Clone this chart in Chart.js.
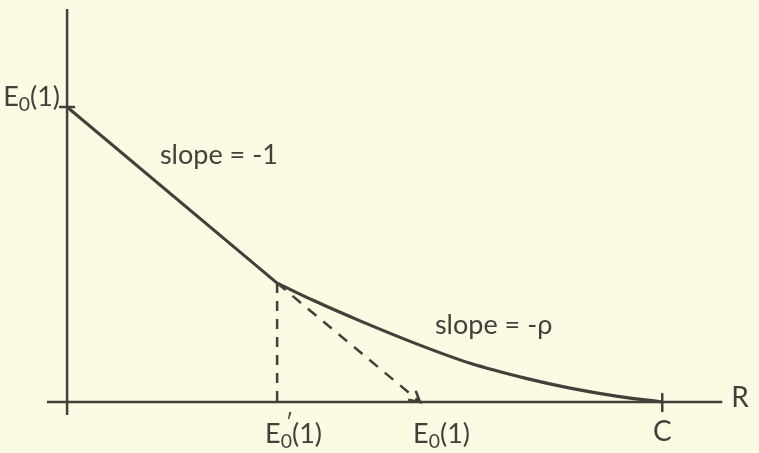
<!DOCTYPE html>
<html>
<head>
<meta charset="utf-8">
<script src="https://cdn.jsdelivr.net/npm/chart.js@4.4.1/dist/chart.umd.min.js"></script>
<style>
  html, body { margin: 0; padding: 0; background: #fbfae3; }
  #wrap { width: 759px; height: 453px; }
</style>
</head>
<body>
<div id="wrap"><canvas id="myChart" width="759" height="453"></canvas></div>
<script>
// rate R along x, exponent E along y (E0(1) taken as 1)
var slopeR = [0, 0.595];
var slopeE = [1, 0.403];
var curveR = [0.595, 0.70, 0.83, 0.99, 1.14, 1.30, 1.425, 1.56, 1.686];
var curveE = [0.403, 0.343, 0.275, 0.197, 0.132, 0.080, 0.047, 0.019, 0];

// dashed tangent continued down to the axis, and the drop line
var tangentR = [0.595, 1];
var tangentE = [0.403, 0];
var dropR = [0.595, 0.595];
var dropE = [0.403, 0];

// axis lines
var xAxisR = [-0.057, 1.856];
var yAxisE = [-0.044, 1.332];

// tick labels ("_" = subscript next char, "'" = prime)
var xTickValues = [0.595, 1, 1.686];
var xTickLabels = ["E_0'(1)", "E_0(1)", "C"];
var yTickValues = [1];
var yTickLabels = ["E_0(1)"];
var xAxisName = "R";

var ink = '#453e3b';
var font = 'Lato, "DejaVu Sans", sans-serif';

function pts(xs, ys) {
  var out = [];
  for (var i = 0; i < xs.length; i++) out.push({x: xs[i], y: ys[i]});
  return out;
}

// split "E_0'(1)" into pieces with their own size / baseline shift
function parts(label, size) {
  var out = [];
  for (var i = 0; i < label.length; i++) {
    var c = label[i];
    if (c === '_') { out.push({t: label[i + 1], size: size * 0.72, dy: size * 0.28}); i++; }
    else if (c === "'") { out.push({t: '\u2032', size: size * 0.8, dy: -size * 0.45, back: true}); }
    else out.push({t: c, size: size, dy: 0});
  }
  return out;
}

function drawLabel(ctx, label, x, y, size, align) {
  var ps = parts(label, size);
  var w = 0, widths = [];
  ps.forEach(function(p) {
    ctx.font = p.size + 'px ' + font;
    var pw = ctx.measureText(p.t).width;
    widths.push(pw);
    if (!p.back) w += pw;
  });
  var cx = align === 'center' ? x - w / 2 : align === 'right' ? x - w : x;
  ctx.textBaseline = 'middle';
  ctx.textAlign = 'left';
  var lastW = 0;
  ps.forEach(function(p, i) {
    ctx.font = p.size + 'px ' + font;
    if (p.back) {
      ctx.fillText(p.t, cx - lastW * 0.55, y + p.dy);
    } else {
      ctx.fillText(p.t, cx, y + p.dy);
      cx += widths[i];
      lastW = widths[i];
    }
  });
}

var sketch = {
  id: 'sketch',
  beforeDraw: function(chart) {
    var ctx = chart.ctx;
    ctx.save();
    ctx.fillStyle = '#fbfae3';
    ctx.fillRect(0, 0, chart.width, chart.height);
    ctx.restore();
  },
  afterDatasetsDraw: function(chart) {
    var ctx = chart.ctx, xs = chart.scales.x, ys = chart.scales.y;
    var x0 = xs.getPixelForValue(0), y0 = ys.getPixelForValue(0);
    ctx.save();
    ctx.strokeStyle = ink;
    ctx.fillStyle = ink;
    ctx.lineWidth = 2.5;
    ctx.lineCap = 'round';

    // y tick crosses + labels
    yTickValues.forEach(function(v, i) {
      var py = ys.getPixelForValue(v);
      ctx.beginPath(); ctx.moveTo(x0 - 7, py); ctx.lineTo(x0 + 7, py); ctx.stroke();
      drawLabel(ctx, yTickLabels[i], x0 - 7, py - 10, 27, 'right');
    });

    // x tick labels, C gets a cross mark
    xTickValues.forEach(function(v, i) {
      var px = xs.getPixelForValue(v);
      var lab = xTickLabels[i];
      if (lab === 'C') {
        ctx.beginPath(); ctx.moveTo(px, y0 - 8); ctx.lineTo(px, y0 + 9); ctx.stroke();
        drawLabel(ctx, lab, px, y0 + 30, 28, 'center');
      } else {
        drawLabel(ctx, lab, px - (lab.indexOf("'") > 0 ? 12 : 7), y0 + 32, 27, 'left');
      }
    });

    // arrow head where the tangent meets the axis
    var tx = xs.getPixelForValue(tangentR[1]), ty = ys.getPixelForValue(tangentE[1]);
    var sx = xs.getPixelForValue(tangentR[0]), sy = ys.getPixelForValue(tangentE[0]);
    var ang = Math.atan2(ty - sy, tx - sx);
    ctx.beginPath();
    ctx.moveTo(tx - 11 * Math.cos(ang - 0.5), ty - 11 * Math.sin(ang - 0.5));
    ctx.lineTo(tx, ty);
    ctx.lineTo(tx - 11 * Math.cos(ang + 0.5), ty - 11 * Math.sin(ang + 0.5));
    ctx.stroke();

    // axis name
    drawLabel(ctx, xAxisName, xs.getPixelForValue(xAxisR[1]) + 9, y0 - 4, 28, 'left');

    // slope notes
    drawLabel(ctx, 'slope = -1', xs.getPixelForValue(0.263), ys.getPixelForValue(0.837), 27, 'left');
    drawLabel(ctx, 'slope = -\u03c1', xs.getPixelForValue(1.042), ys.getPixelForValue(0.261), 27, 'left');
    ctx.restore();
  }
};

var line = {
  showLine: true, pointRadius: 0, borderColor: ink, borderWidth: 3,
  fill: false, tension: 0
};

var data = {
  datasets: [
    Object.assign({}, line, {data: pts(xAxisR, [0, 0]), borderWidth: 2.5}),
    Object.assign({}, line, {data: pts([0, 0], yAxisE), borderWidth: 2.5}),
    Object.assign({}, line, {data: pts(slopeR, slopeE)}),
    Object.assign({}, line, {data: pts(curveR, curveE), cubicInterpolationMode: 'monotone', borderWidth: 3.2}),
    Object.assign({}, line, {data: pts(tangentR, tangentE), borderDash: [11, 9], borderWidth: 2.5}),
    Object.assign({}, line, {data: pts(dropR, dropE), borderDash: [10, 8], borderWidth: 2.5})
  ]
};

var options = {
  responsive: false,
  animation: false,
  layout: { padding: 0 },
  plugins: { legend: { display: false }, tooltip: { enabled: false } },
  scales: {
    x: { type: 'linear', display: false, min: -0.19, max: 1.96 },
    y: { type: 'linear', display: false, min: -0.1729, max: 1.3627 }
  }
};

var ctx = document.getElementById('myChart');
var myChart = new Chart(ctx, {
  type: 'scatter',
  data: data,
  options: options,
  plugins: [sketch]
});
</script>
</body>
</html>
